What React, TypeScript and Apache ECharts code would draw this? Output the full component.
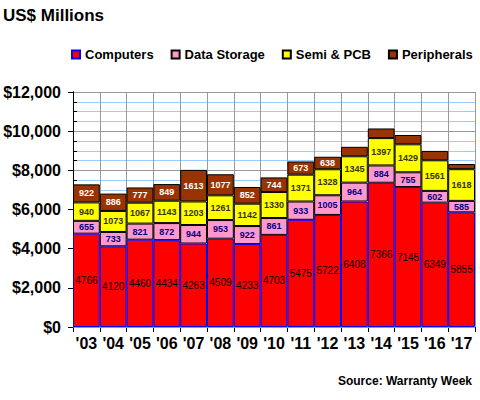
import React, { useEffect, useRef } from "react";
import * as echarts from "echarts";

const years = ["'03", "'04", "'05", "'06", "'07", "'08", "'09", "'10", "'11", "'12", "'13", "'14", "'15", "'16", "'17"];
const computers = [4766, 4120, 4460, 4434, 4263, 4509, 4233, 4703, 5475, 5722, 6408, 7366, 7145, 6349, 5855];
const dataStorage = [655, 733, 821, 872, 944, 953, 922, 861, 933, 1005, 964, 884, 755, 602, 585];
const semiPcb = [940, 1073, 1067, 1143, 1203, 1261, 1142, 1330, 1371, 1328, 1345, 1397, 1429, 1561, 1618];
const peripherals = [922, 886, 777, 849, 1613, 1077, 852, 744, 673, 638, 484, 490, 476, 480, 265];
const peripheralsLabelled = [true, true, true, true, true, true, true, true, true, true, false, false, false, false, false];
const seriesNames = ["Computers", "Data Storage", "Semi & PCB", "Peripherals"];

const FONT = "Arial, 'Liberation Sans', sans-serif";

export default function App() {
  const ref = useRef<HTMLDivElement>(null);
  useEffect(() => {
    document.body.style.margin = "0";
    if (!ref.current) return;
    const chart = echarts.init(ref.current, undefined, { renderer: "svg" });
    const labelBase = {
      show: true,
      position: "inside" as const,
      fontFamily: FONT,
      fontSize: 9,
      fontWeight: "bold" as const,
    };
    chart.setOption({
      animation: false,
      backgroundColor: "#ffffff",
      title: {
        text: "US$ Millions",
        left: 3,
        top: 7,
        padding: 0,
        textStyle: { fontFamily: FONT, fontSize: 17, fontWeight: "bold", color: "#000" },
      },
      legend: {
        data: seriesNames,
        left: 71,
        top: 48,
        padding: 0,
        width: 409,
        itemWidth: 8,
        itemHeight: 8,
        itemGap: 17,
        icon: "rect",
        textStyle: { fontFamily: FONT, fontSize: 13, fontWeight: "bold", color: "#000" },
      },
      grid: { left: 73, right: 5, top: 92, bottom: 73 },
      xAxis: {
        type: "category",
        data: years,
        axisLine: { lineStyle: { color: "#000", width: 1 } },
        axisTick: { show: true, length: 5, lineStyle: { color: "#000" } },
        axisLabel: { fontFamily: FONT, fontSize: 16, fontWeight: "bold", color: "#000", margin: 8, interval: 0 },
        splitLine: { show: true, lineStyle: { color: "#999999", width: 1 } },
      },
      yAxis: [
        {
          type: "value",
          min: 0,
          max: 12000,
          interval: 2000,
          z: 1,
          axisLine: { show: true, lineStyle: { color: "#000", width: 1 } },
          axisTick: { show: true, length: 5, lineStyle: { color: "#000" } },
          axisLabel: {
            fontFamily: FONT,
            fontSize: 16,
            fontWeight: "bold",
            color: "#000",
            margin: 12,
            formatter: (v: number) => "$" + v.toLocaleString("en-US"),
          },
          splitLine: { show: true, lineStyle: { color: "#999999", width: 1 } },
        },
        {
          type: "value",
          position: "left",
          min: 0,
          max: 12000,
          interval: 500,
          z: 0,
          axisLine: { show: true, lineStyle: { color: "#000", width: 1 } },
          axisTick: { show: true, inside: true, length: 4, lineStyle: { color: "#000" } },
          axisLabel: { show: false },
          splitLine: { show: true, lineStyle: { color: "#99CCFF", width: 1 } },
        },
      ],
      series: [
        {
          name: seriesNames[0],
          type: "bar",
          stack: "total",
          barCategoryGap: "0%",
          data: computers,
          itemStyle: { color: "#FF0000", borderColor: "#0000FF", borderWidth: 1 },
          label: { ...labelBase, color: "#000000", fontWeight: "normal", fontSize: 10 },
        },
        {
          name: seriesNames[1],
          type: "bar",
          stack: "total",
          barCategoryGap: "0%",
          data: dataStorage,
          itemStyle: { color: "#FF99CC", borderColor: "#000000", borderWidth: 1 },
          label: { ...labelBase, color: "#000080" },
        },
        {
          name: seriesNames[2],
          type: "bar",
          stack: "total",
          barCategoryGap: "0%",
          data: semiPcb,
          itemStyle: { color: "#FFFF00", borderColor: "#000000", borderWidth: 1 },
          label: { ...labelBase, color: "#333300" },
        },
        {
          name: seriesNames[3],
          type: "bar",
          stack: "total",
          barCategoryGap: "0%",
          data: peripherals.map((v, i) => ({
            value: v,
            label: { show: peripheralsLabelled[i] },
          })),
          itemStyle: { color: "#993300", borderColor: "#000000", borderWidth: 1 },
          label: { ...labelBase, color: "#FFFFFF" },
        },
      ],
      graphic: [
        {
          type: "text",
          right: 8,
          top: 375,
          style: {
            text: "Source: Warranty Week",
            font: "bold 12px Arial, 'Liberation Sans', sans-serif",
            fill: "#000",
          },
        },
      ],
    });
    return () => chart.dispose();
  }, []);
  return <div ref={ref} style={{ width: 480, height: 400 }} />;
}
